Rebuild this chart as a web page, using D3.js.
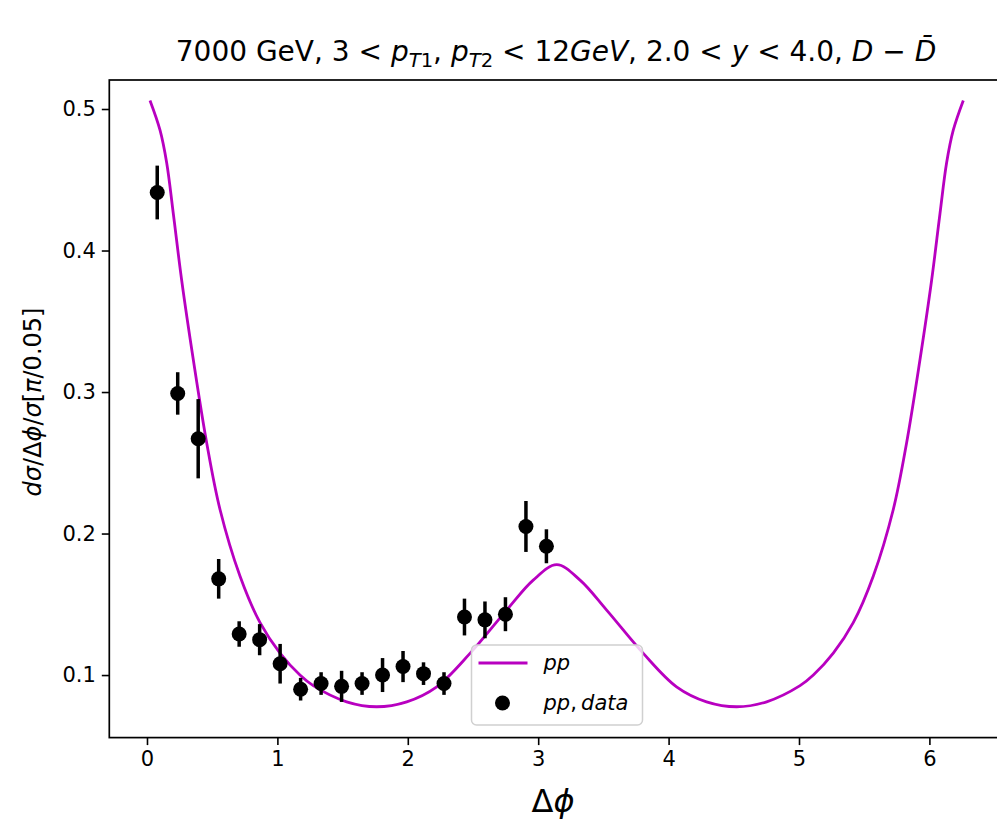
<!DOCTYPE html>
<html>
<head>
<meta charset="utf-8">
<script src="https://cdn.jsdelivr.net/npm/d3@7"></script>
<style>
  body { margin: 0; background: #fff; }
  text { font-family: "DejaVu Sans", sans-serif; fill: #000; }
</style>
</head>
<body>
<svg id="chart" width="997" height="829"></svg>
<script>
// tick values
const xTicks = [0, 1, 2, 3, 4, 5, 6];
const yTicks = [0.1, 0.2, 0.3, 0.4, 0.5];

// model curve (pp) (it is symmetric about pi)
const curveX = [0.023, 0.100, 0.151, 0.202, 0.266, 0.355, 0.458, 0.560, 0.713, 0.867,
  1.020, 1.173, 1.275, 1.531, 1.761, 1.992, 2.222, 2.477, 2.758, 2.962, 3.142,
  3.321, 3.525, 3.806, 4.061, 4.291, 4.522, 4.752, 5.008, 5.110, 5.263,
  5.416, 5.570, 5.723, 5.825, 5.928, 6.017, 6.081, 6.132, 6.183, 6.260];
const curveY = [0.506, 0.485, 0.462, 0.426, 0.379, 0.323, 0.264, 0.217, 0.170, 0.137,
  0.1155, 0.1000, 0.0925, 0.0811, 0.0776, 0.0811, 0.0917, 0.1153, 0.1459, 0.1671, 0.1780,
  0.1671, 0.1459, 0.1153, 0.0917, 0.0811, 0.0776, 0.0811, 0.0925, 0.1000, 0.1155,
  0.137, 0.170, 0.217, 0.264, 0.323, 0.379, 0.426, 0.462, 0.485, 0.506];

// pp data points
const dataX = [0.0785, 0.2356, 0.3927, 0.5498, 0.7069, 0.8639, 1.0210, 1.1781, 1.3352, 1.4923,
  1.6493, 1.8064, 1.9635, 2.1206, 2.2777, 2.4347, 2.5918, 2.7489, 2.9060, 3.0631];
const dataY = [0.441, 0.299, 0.267, 0.168, 0.129, 0.125, 0.108, 0.090, 0.094, 0.092,
  0.094, 0.100, 0.106, 0.101, 0.094, 0.141, 0.139, 0.143, 0.205, 0.191];
const dataErr = [0.019, 0.015, 0.028, 0.014, 0.009, 0.011, 0.014, 0.008, 0.008, 0.011,
  0.008, 0.012, 0.011, 0.008, 0.008, 0.013, 0.013, 0.012, 0.018, 0.012];

const lineColor = "#b800c0";

const svg = d3.select("#chart");
const mLeft = 109.3, mRight = 1003.6, mTop = 80, mBottom = 737.6;

const x = d3.scaleLinear().domain([-0.289, 6.569]).range([mLeft, mRight]);
const y = d3.scaleLinear().domain([0.0558, 0.5205]).range([mBottom, mTop]);

// helper: text made of styled pieces (italic / subscript)
function richText(sel, parts, size) {
  let shift = 0;
  parts.forEach(p => {
    const ts = sel.append("tspan").text(p.t);
    if (p.i) ts.attr("font-style", "italic");
    const want = p.sub ? size * 0.22 : 0;
    if (want !== shift) { ts.attr("dy", want - shift); shift = want; }
    if (p.sub) ts.attr("font-size", size * 0.7);
  });
}

// curve
const line = d3.line()
  .x((d, i) => x(curveX[i]))
  .y((d, i) => y(curveY[i]))
  .curve(d3.curveCatmullRom.alpha(0.5));

svg.append("path")
  .datum(curveX)
  .attr("d", line)
  .attr("fill", "none")
  .attr("stroke", lineColor)
  .attr("stroke-width", 2.8);

// error bars
const pts = dataX.map((v, i) => ({ x: v, y: dataY[i], e: dataErr[i] }));
svg.append("g").selectAll("line")
  .data(pts)
  .join("line")
  .attr("x1", d => x(d.x)).attr("x2", d => x(d.x))
  .attr("y1", d => y(d.y - d.e)).attr("y2", d => y(d.y + d.e))
  .attr("stroke", "#000")
  .attr("stroke-width", 3.5);

svg.append("g").selectAll("circle")
  .data(pts)
  .join("circle")
  .attr("cx", d => x(d.x))
  .attr("cy", d => y(d.y))
  .attr("r", 7.5)
  .attr("fill", "#000");

// axes
const xAxis = svg.append("g")
  .attr("transform", `translate(0,${mBottom})`)
  .call(d3.axisBottom(x).tickValues(xTicks).tickSize(7.5).tickPadding(6).tickFormat(d3.format("d")));
const yAxis = svg.append("g")
  .attr("transform", `translate(${mLeft},0)`)
  .call(d3.axisLeft(y).tickValues(yTicks).tickSize(7.5).tickPadding(6).tickFormat(d3.format(".1f")));

[xAxis, yAxis].forEach(a => {
  a.select(".domain").remove();
  a.selectAll(".tick line").attr("stroke", "#000").attr("stroke-width", 1.6);
  a.selectAll(".tick text").attr("font-size", 21).attr("font-family", "DejaVu Sans").attr("fill", "#000");
});

// spines
svg.append("rect")
  .attr("x", mLeft).attr("y", mTop)
  .attr("width", mRight - mLeft).attr("height", mBottom - mTop)
  .attr("fill", "none")
  .attr("stroke", "#000")
  .attr("stroke-width", 1.7);

// legend
const lg = svg.append("g").attr("transform", "translate(471.5,645)");
lg.append("rect")
  .attr("width", 171).attr("height", 80).attr("rx", 5)
  .attr("fill", "#fff").attr("fill-opacity", 0.8)
  .attr("stroke", "#d0d0d0").attr("stroke-width", 1.5);
lg.append("line")
  .attr("x1", 7).attr("x2", 56).attr("y1", 18).attr("y2", 18)
  .attr("stroke", lineColor).attr("stroke-width", 2.8);
lg.append("circle").attr("cx", 31).attr("cy", 58).attr("r", 7.5).attr("fill", "#000");
richText(lg.append("text").attr("x", 72).attr("y", 25).attr("font-size", 21),
  [{ t: "pp", i: true }], 21);
richText(lg.append("text").attr("x", 72).attr("y", 65).attr("font-size", 21),
  [{ t: "pp", i: true }, { t: ",\u2009" }, { t: "data", i: true }], 21);

// title
const tSize = 28;
richText(svg.append("text").attr("x", 556).attr("y", 61)
  .attr("text-anchor", "middle").attr("font-size", tSize),
  [{ t: "7000 GeV, 3 < " }, { t: "p", i: true }, { t: "T", i: true, sub: true }, { t: "1", sub: true },
   { t: ", " }, { t: "p", i: true }, { t: "T", i: true, sub: true }, { t: "2", sub: true },
   { t: " < 12" }, { t: "GeV", i: true }, { t: ", 2.0 < " }, { t: "y", i: true },
   { t: " < 4.0, " }, { t: "D", i: true }, { t: " \u2212 " }, { t: "D\u0304", i: true }], tSize);

// axis labels
richText(svg.append("text").attr("x", 553).attr("y", 812)
  .attr("text-anchor", "middle").attr("font-size", 32),
  [{ t: "\u0394" }, { t: "\u03d5", i: true }], 32);

richText(svg.append("text")
  .attr("transform", `translate(41,402) rotate(-90)`)
  .attr("text-anchor", "middle").attr("font-size", 24),
  [{ t: "d", i: true }, { t: "\u03c3", i: true }, { t: "/\u0394" }, { t: "\u03d5", i: true },
   { t: "/" }, { t: "\u03c3", i: true }, { t: "[" }, { t: "\u03c0", i: true }, { t: "/0.05]" }], 24);
</script>
</body>
</html>
